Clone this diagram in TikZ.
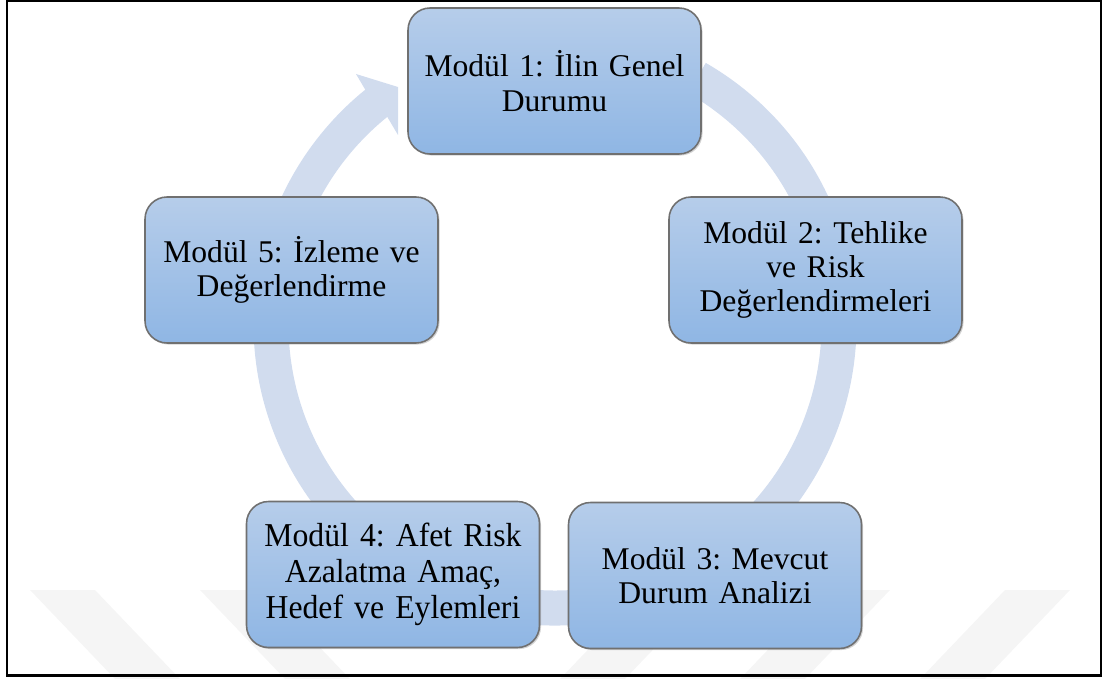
\documentclass[tikz,border=0pt]{standalone}
\usepackage{fontspec}
\setmainfont{Liberation Serif}
\newfontfamily\narrowfont[FakeStretch=0.95]{Liberation Serif}
\usetikzlibrary{calc,shadows}
\definecolor{ringc}{RGB}{209,220,238}
\definecolor{boxtop}{RGB}{182,205,234}
\definecolor{boxbot}{RGB}{143,182,228}
\definecolor{boxline}{RGB}{112,112,112}
\definecolor{wm}{RGB}{245,245,245}
\begin{document}
\frenchspacing
\begin{tikzpicture}[x=0.02cm,y=-0.02cm,
  modbox/.style={rounded corners=0.44cm, minimum width=5.86cm, minimum height=2.92cm,
    draw=boxline, line width=0.9pt, top color=boxtop, bottom color=boxbot,
    drop shadow={shadow xshift=0.9pt, shadow yshift=-0.9pt, opacity=0.35},
    align=center, inner sep=0pt, text width=5.5cm,
    font=\frenchspacing\fontsize{18}{19.5}\selectfont},
  stripe/.style={fill=wm, draw=none},
  frame/.style={draw=black, line width=1.45pt}]
\useasboundingbox (0,0) rectangle (1103,679);
% watermark stripes
\fill[stripe] (30,590) -- (95,590) -- (180,679) -- (115,679) -- cycle;
\fill[stripe] (200,590) -- (265,590) -- (350,679) -- (285,679) -- cycle;
\fill[stripe] (560,679) -- (625,679) -- (710,590) -- (645,590) -- cycle;
\fill[stripe] (740,679) -- (805,679) -- (890,590) -- (825,590) -- cycle;
\fill[stripe] (920,679) -- (985,679) -- (1070,590) -- (1005,590) -- cycle;
% cycle ring with arrow head
\coordinate (C) at (555,324);
\fill[ringc] ($(C)+(-60:301.5)$) arc[start angle=-60, end angle=231, radius=301.5]
  -- (356,74) -- (398,87) -- (398,135) -- ($(C)+(231:266.5)$)
  arc[start angle=231, end angle=-60, radius=266.5] -- cycle;
% modules
\node[modbox] (m1) at (554.5,81) {Modül 1: İlin Genel\\Durumu};
\node[modbox] (m2) at (815.5,270) {Modül 2: Tehlike\\ve Risk\\Değerlendirmeleri};
\node[modbox] (m3) at (715,575.5) {Modül 3: Mevcut\\Durum Analizi};
\node[modbox, font=\frenchspacing\narrowfont\fontsize{19}{20.5}\selectfont] (m4) at (393,574.5) {Modül 4: Afet Risk\\Azalatma Amaç,\\Hedef ve Eylemleri};
\node[modbox] (m5) at (291.5,270) {Modül 5: İzleme ve\\Değerlendirme};
% outer frame
\draw[frame] (7,1) rectangle (1101,675.5);
\end{tikzpicture}
\end{document}
